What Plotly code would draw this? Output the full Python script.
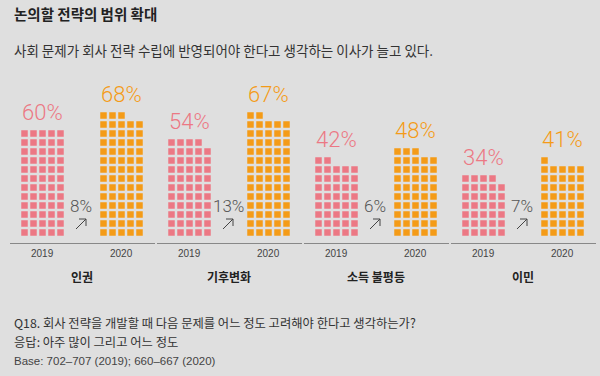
import plotly.graph_objects as go

categories = ["인권", "기후변화", "소득 불평등", "이민"]
years = ["2019", "2020"]
v2019 = [60, 54, 42, 34]
v2020 = [68, 67, 48, 41]
change = ["8%", "13%", "6%", "7%"]

title = "논의할 전략의 범위 확대"
subtitle = "사회 문제가 회사 전략 수립에 반영되어야 한다고 생각하는 이사가 늘고 있다."
foot1 = "Q18. 회사 전략을 개발할 때 다음 문제를 어느 정도 고려해야 한다고 생각하는가?"
foot2 = "응답: 아주 많이 그리고 어느 정도"
foot3 = "Base: 702–707 (2019); 660–667 (2020)"

PINK = "#ec7884"
ORANGE = "#f49b17"
BG = "#dfdfdf"
KR = "Noto Sans CJK KR"
LIGHT = "Roboto"

W, H = 600, 376
group_step = 147
x_first = 24.5
year_off = 79
pitch = 9
ncol = 5
y_bottom = 232.5
baseline_y = 243.5

fig = go.Figure()
annotations = []
shapes = []

for gi, cat in enumerate(categories):
    gx = x_first + gi * group_step
    for yi, (vals, col) in enumerate([(v2019, PINK), (v2020, ORANGE)]):
        v = vals[gi]
        bx = gx + yi * year_off
        xs = [bx + (k % ncol) * pitch for k in range(v)]
        ys = [y_bottom - (k // ncol) * pitch for k in range(v)]
        fig.add_trace(go.Scatter(x=xs, y=ys, mode="markers",
                                 marker=dict(symbol="square", size=6.5, color=col, line=dict(width=0)),
                                 hoverinfo="skip", showlegend=False))
        nrows = (v + ncol - 1) // ncol
        top = y_bottom - (nrows - 1) * pitch - 3.5
        cx = bx + (ncol - 1) * pitch / 2
        annotations.append(dict(x=cx, y=top - 3, xref="x", yref="y", text=f"{v}%",
                                showarrow=False, yanchor="bottom", xanchor="center",
                                font=dict(family=LIGHT, size=22, color=col, weight=300)))
        annotations.append(dict(x=cx, y=253, xref="x", yref="y", text=years[yi],
                                showarrow=False, yanchor="middle", xanchor="center",
                                font=dict(family="Liberation Sans", size=10, color="#444")))
    mid = gx + (ncol - 1) * pitch / 2 + year_off / 2
    annotations.append(dict(x=mid, y=276, xref="x", yref="y", text=f"<b>{cat}</b>",
                            showarrow=False, yanchor="middle", xanchor="center",
                            font=dict(family=KR, size=12, color="#222")))
    annotations.append(dict(x=mid - 1, y=206, xref="x", yref="y", text=change[gi],
                            showarrow=False, yanchor="middle", xanchor="center",
                            font=dict(family=LIGHT, size=17, color="#555", weight=300)))
    hx, hy = mid + 4, 219
    arrow_path = (f"M {hx - 10} {hy + 10} L {hx} {hy} "
                  f"M {hx - 7} {hy} L {hx} {hy} L {hx} {hy + 7}")
    shapes.append(dict(type="path", xref="x", yref="y", path=arrow_path,
                       line=dict(color="#444", width=1)))
    x0 = 10 + gi * group_step
    shapes.append(dict(type="line", xref="x", yref="y", x0=x0, x1=x0 + group_step - 2,
                       y0=baseline_y, y1=baseline_y, line=dict(color="#888", width=1)))

annotations += [
    dict(x=12, y=13, xref="x", yref="y", text=f"<b>{title}</b>", showarrow=False,
         xanchor="left", yanchor="middle", font=dict(family=KR, size=14.5, color="#222")),
    dict(x=12, y=50, xref="x", yref="y", text=subtitle, showarrow=False,
         xanchor="left", yanchor="middle", font=dict(family=KR, size=13.5, color="#333")),
    dict(x=12, y=323, xref="x", yref="y", text=foot1, showarrow=False,
         xanchor="left", yanchor="middle", font=dict(family=KR, size=12.3, color="#333")),
    dict(x=12, y=342, xref="x", yref="y", text=foot2, showarrow=False,
         xanchor="left", yanchor="middle", font=dict(family=KR, size=12.3, color="#333")),
    dict(x=12, y=361, xref="x", yref="y", text=foot3, showarrow=False,
         xanchor="left", yanchor="middle", font=dict(family="Liberation Sans", size=11.5, color="#444")),
]

fig.update_layout(
    width=W, height=H, margin=dict(l=0, r=0, t=0, b=0),
    paper_bgcolor=BG, plot_bgcolor=BG,
    xaxis=dict(range=[0, W], visible=False, fixedrange=True),
    yaxis=dict(range=[H, 0], visible=False, fixedrange=True),
    annotations=annotations, shapes=shapes,
)
fig.write_html("out.html", config={"displayModeBar": False},
               post_script="document.body.style.margin='0';document.body.style.overflow='hidden';")
